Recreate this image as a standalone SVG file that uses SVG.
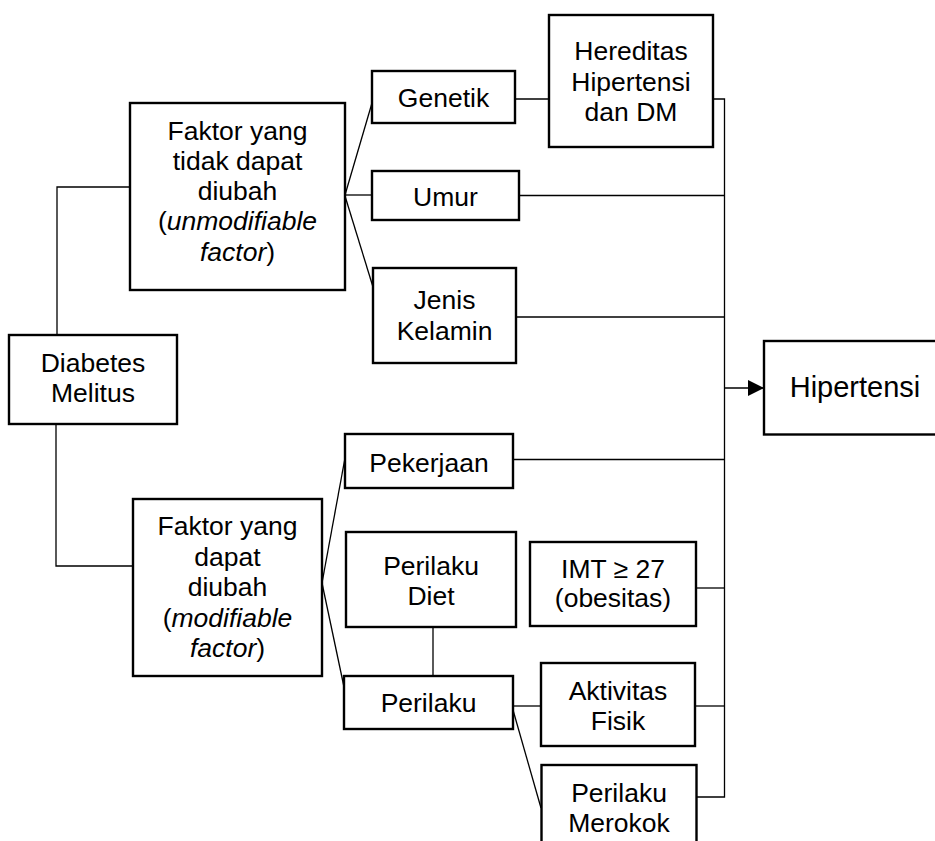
<svg xmlns="http://www.w3.org/2000/svg" width="935" height="841" viewBox="0 0 935 841">
<style>
.box{fill:#fff;stroke:#000;stroke-width:2.4}
.t{font-family:"Liberation Sans",Arial,sans-serif;font-size:26.5px;fill:#000;text-anchor:middle}
.big{font-size:29px}
.c{fill:none;stroke:#000;stroke-width:1.3}
</style>
<defs>
<marker id="arr" viewBox="0 0 16 16" refX="16" refY="8" markerWidth="16" markerHeight="16" markerUnits="userSpaceOnUse" orient="auto">
<path d="M0,0 L16,8 L0,16 Z" fill="#000"/>
</marker>
</defs>
<rect width="935" height="841" fill="#fff"/>
<g id="connectors">
<polyline class="c" points="57,335 57,187 130,187"/>
<polyline class="c" points="56,424 56,566 133,566"/>
<line class="c" x1="345" y1="195" x2="372" y2="103"/>
<line class="c" x1="345" y1="195" x2="372" y2="195"/>
<line class="c" x1="345" y1="196" x2="373" y2="287"/>
<line class="c" x1="515" y1="99" x2="549" y2="99"/>
<polyline class="c" points="713,99 724.5,99 724.5,797 697,797"/>
<line class="c" x1="519" y1="195.5" x2="724.5" y2="195.5"/>
<line class="c" x1="516" y1="317" x2="724.5" y2="317"/>
<line class="c" x1="724.5" y1="388" x2="764" y2="388" marker-end="url(#arr)"/>
<line class="c" x1="322" y1="583" x2="345" y2="458"/>
<line class="c" x1="322" y1="583" x2="344" y2="687"/>
<line class="c" x1="513" y1="459.5" x2="724.5" y2="459.5"/>
<line class="c" x1="433" y1="627" x2="433" y2="676"/>
<line class="c" x1="696" y1="588" x2="724.5" y2="588"/>
<line class="c" x1="513" y1="706" x2="541" y2="706"/>
<line class="c" x1="695" y1="706" x2="724.5" y2="706"/>
<line class="c" x1="513" y1="710" x2="541" y2="808"/>
</g>
<g id="diabetes">
<rect class="box" x="9" y="335" width="168" height="89"/>
<text class="t" x="93" y="372">Diabetes</text>
<text class="t" x="93" y="402">Melitus</text>
</g>
<g id="faktor-tidak">
<rect class="box" x="130" y="103" width="215" height="187"/>
<text class="t" x="237.5" y="139.5">Faktor yang</text>
<text class="t" x="237.5" y="170">tidak dapat</text>
<text class="t" x="237.5" y="200">diubah</text>
<text class="t" x="237.5" y="230">(<tspan font-style="italic">unmodifiable</tspan></text>
<text class="t" x="237.5" y="260.5"><tspan font-style="italic">factor</tspan>)</text>
</g>
<g id="genetik">
<rect class="box" x="372" y="71" width="143" height="52"/>
<text class="t" x="443.5" y="107">Genetik</text>
</g>
<g id="hereditas">
<rect class="box" x="549" y="15" width="164" height="132"/>
<text class="t" x="631" y="60">Hereditas</text>
<text class="t" x="631" y="90.5">Hipertensi</text>
<text class="t" x="631" y="121">dan DM</text>
</g>
<g id="umur">
<rect class="box" x="372" y="171" width="147" height="49"/>
<text class="t" x="445.5" y="205.5">Umur</text>
</g>
<g id="jenis-kelamin">
<rect class="box" x="373" y="268" width="143" height="95"/>
<text class="t" x="444.5" y="309">Jenis</text>
<text class="t" x="444.5" y="340">Kelamin</text>
</g>
<g id="hipertensi">
<rect class="box" x="764" y="341" width="180" height="93.5"/>
<text class="t big" x="855" y="397">Hipertensi</text>
</g>
<g id="faktor-dapat">
<rect class="box" x="133" y="499" width="189" height="177"/>
<text class="t" x="227.5" y="535">Faktor yang</text>
<text class="t" x="227.5" y="565.5">dapat</text>
<text class="t" x="227.5" y="596">diubah</text>
<text class="t" x="227.5" y="626.5">(<tspan font-style="italic">modifiable</tspan></text>
<text class="t" x="227.5" y="657"><tspan font-style="italic">factor</tspan>)</text>
</g>
<g id="pekerjaan">
<rect class="box" x="345" y="434" width="168" height="54"/>
<text class="t" x="429" y="471.5">Pekerjaan</text>
</g>
<g id="perilaku-diet">
<rect class="box" x="346" y="532" width="170" height="95"/>
<text class="t" x="431" y="575">Perilaku</text>
<text class="t" x="431" y="604.5">Diet</text>
</g>
<g id="imt">
<rect class="box" x="530" y="542" width="166" height="84"/>
<text class="t" x="613" y="577.5">IMT ≥ 27</text>
<text class="t" x="613" y="607">(obesitas)</text>
</g>
<g id="perilaku">
<rect class="box" x="344" y="676" width="169" height="53"/>
<text class="t" x="428.5" y="712">Perilaku</text>
</g>
<g id="aktivitas">
<rect class="box" x="541" y="663" width="154" height="83"/>
<text class="t" x="618" y="699.5">Aktivitas</text>
<text class="t" x="618" y="729.5">Fisik</text>
</g>
<g id="merokok">
<rect class="box" x="541.5" y="765" width="155" height="90"/>
<text class="t" x="619" y="802">Perilaku</text>
<text class="t" x="619" y="832">Merokok</text>
</g>
</svg>
